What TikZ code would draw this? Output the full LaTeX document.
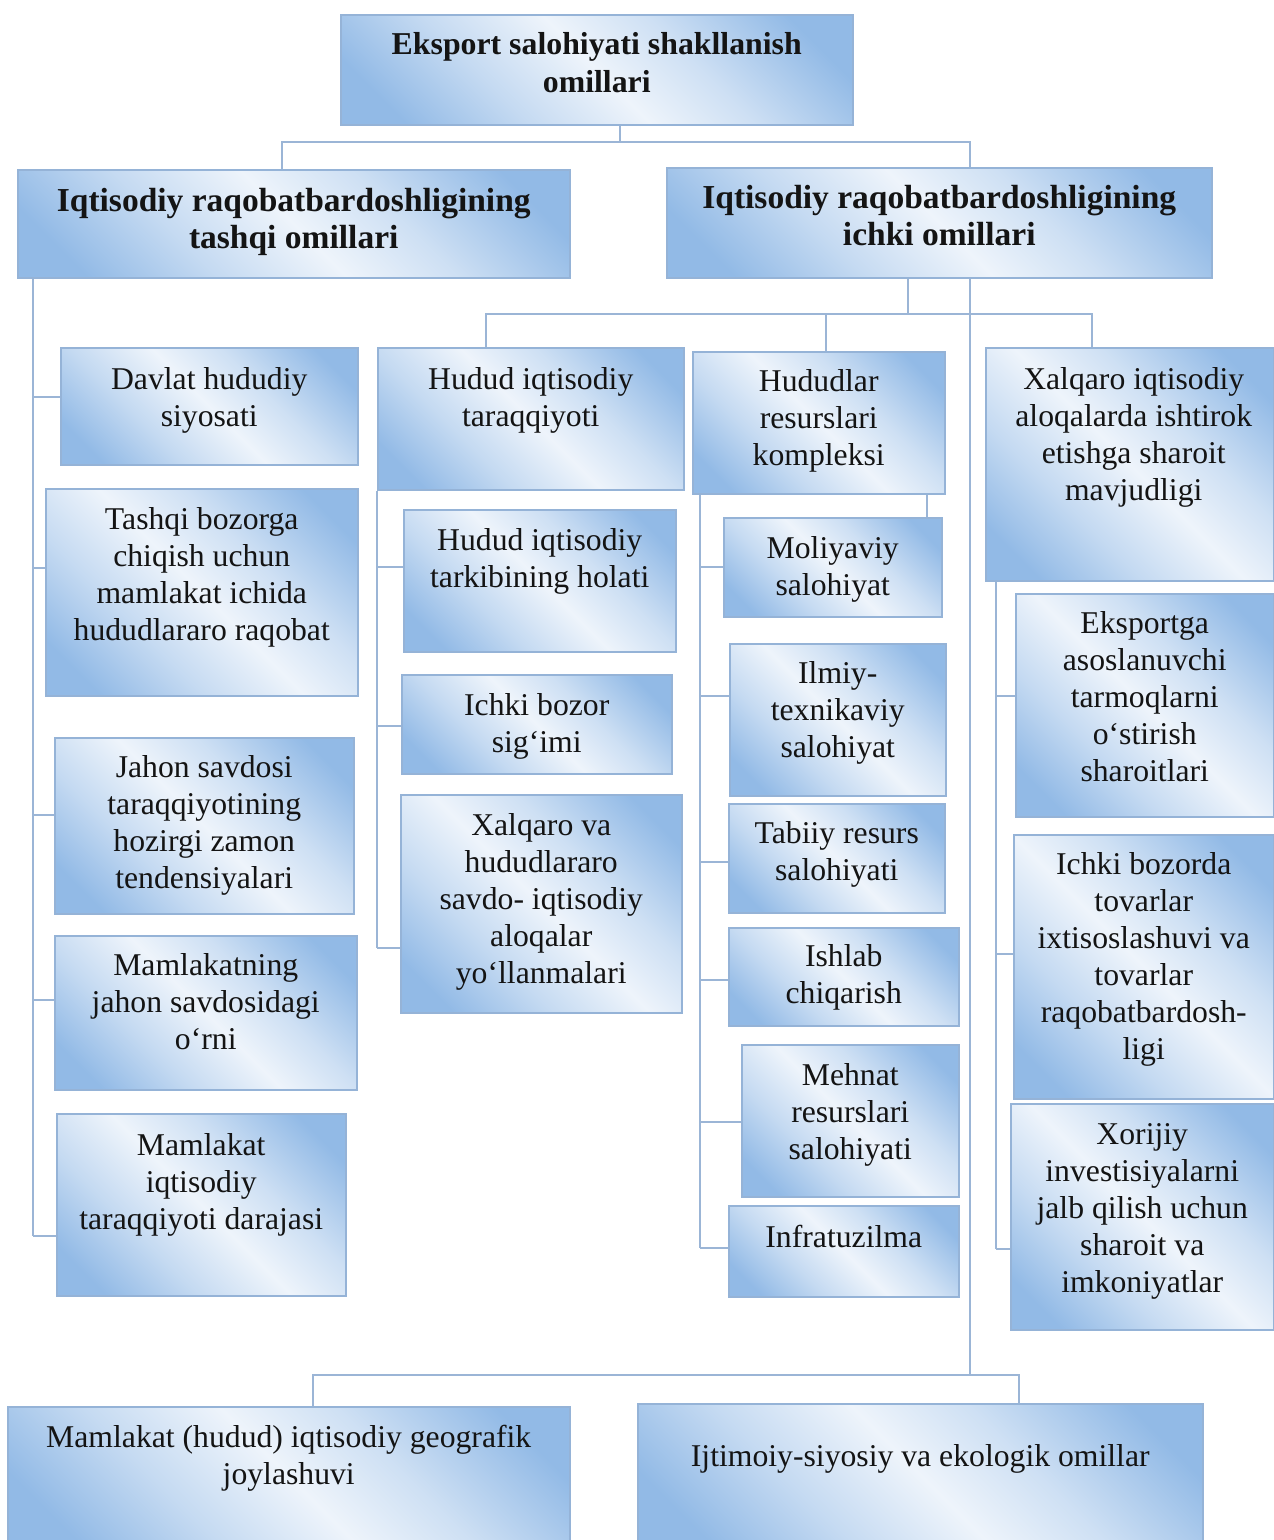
\documentclass[tikz,border=0pt]{standalone}
\usepackage{fontspec}
\setmainfont{Liberation Serif}
\definecolor{bxblue}{RGB}{146,186,230}
\definecolor{bxlight}{RGB}{238,244,251}
\definecolor{bxline}{RGB}{149,179,215}
\definecolor{cnline}{RGB}{155,181,214}
\definecolor{txt}{RGB}{20,20,20}
\pgfdeclareverticalshading{bxshade}{100bp}{color(0bp)=(bxblue); color(22bp)=(bxblue); color(36bp)=(bxblue!45!bxlight); color(50bp)=(bxlight); color(62bp)=(bxblue!35!bxlight); color(78bp)=(bxblue); color(100bp)=(bxblue)}
\tikzset{
  box/.style={draw=bxline,line width=1.5pt,shading=bxshade,shading angle=-45,inner sep=0pt,text=txt,font=\fontsize{31.7}{37}\selectfont},
  conn/.style={draw=cnline,line width=2pt}
}
\newcommand\bx[7]{%
  \pgfmathsetmacro\bxw{#4-#2}\pgfmathsetmacro\bxh{#5-#3}%
  \node[box,anchor=north west,minimum width=\bxw pt,minimum height=\bxh pt] (#1) at (#2,#3)
    {\parbox[c][\bxh pt][t]{\bxw pt}{\centering\rule{0pt}{#6pt}#7}};}
\newcommand\brn[3]{\coordinate (#1) at (#2); \draw[conn] (#1) -- (#1 -| #3.west);}
\begin{document}
\begin{tikzpicture}[x=1pt,y=-1pt]
\useasboundingbox (0,0) rectangle (1274,1540);
\fill[white] (0,0) rectangle (1274,1540);

% top levels
\bx{T}{340}{14}{852}{124}{40}{\fontsize{31.8}{38}\selectfont\bfseries Eksport salohiyati shakllanish\\omillari}
\bx{L}{17}{169}{569}{277}{42}{\fontsize{33.5}{37}\selectfont\bfseries Iqtisodiy raqobatbardoshligining\\tashqi omillari}
\bx{R}{666}{167}{1211}{277}{41}{\fontsize{33.5}{37}\selectfont\bfseries Iqtisodiy raqobatbardoshligining\\ichki omillari}

% left column
\bx{a1}{60}{347}{357}{464}{42}{Davlat hududiy\\siyosati}
\bx{a2}{45}{488}{357}{695}{41}{Tashqi bozorga\\chiqish uchun\\mamlakat ichida\\hududlararo raqobat}
\bx{a3}{54}{737}{353}{913}{40}{Jahon savdosi\\taraqqiyotining\\hozirgi zamon\\tendensiyalari}
\bx{a4}{54}{935}{356}{1089}{40}{Mamlakatning\\jahon savdosidagi\\o‘rni}
\bx{a5}{56}{1113}{345}{1295}{42}{Mamlakat\\iqtisodiy\\taraqqiyoti darajasi}

% column 2
\bx{b0}{377}{347}{683}{489}{42}{Hudud iqtisodiy\\taraqqiyoti}
\bx{b1}{403}{509}{675}{651}{41}{Hudud iqtisodiy\\tarkibining holati}
\bx{b2}{401}{674}{671}{773}{41}{Ichki bozor\\sig‘imi}
\bx{b3}{400}{794}{681}{1012}{41}{Xalqaro va\\hududlararo\\savdo- iqtisodiy\\aloqalar\\yo‘llanmalari}

% column 3
\bx{c0}{692}{351}{944}{493}{40}{Hududlar\\resurslari\\kompleksi}
\bx{c1}{723}{517}{941}{616}{41}{Moliyaviy\\salohiyat}
\bx{c2}{729}{643}{945}{795}{40}{Ilmiy-\\texnikaviy\\salohiyat}
\bx{c3}{728}{803}{944}{912}{40}{Tabiiy resurs\\salohiyati}
\bx{c4}{728}{927}{958}{1025}{39}{Ishlab\\chiqarish}
\bx{c5}{741}{1044}{958}{1196}{41}{Mehnat\\resurslari\\salohiyati}
\bx{c6}{728}{1205}{958}{1296}{42}{Infratuzilma}

% column 4
\bx{d0}{985}{347}{1273}{580}{42}{\hspace*{8pt}Xalqaro iqtisodiy\\\hspace*{8pt}aloqalarda ishtirok\\\hspace*{8pt}etishga sharoit\\\hspace*{8pt}mavjudligi}
\bx{d1}{1015}{593}{1273}{816}{40}{Eksportga\\asoslanuvchi\\tarmoqlarni\\o‘stirish\\sharoitlari}
\bx{d2}{1013}{834}{1273}{1098}{40}{Ichki bozorda\\tovarlar\\ixtisoslashuvi va\\tovarlar\\raqobatbardosh-\\ligi}
\bx{d3}{1010}{1103}{1273}{1329}{41}{Xorijiy\\investisiyalarni\\jalb qilish uchun\\sharoit va\\imkoniyatlar}

% bottom
\bx{e1}{7}{1406}{569}{1545}{41}{Mamlakat (hudud) iqtisodiy geografik\\joylashuvi}
\bx{e2}{637}{1403}{1202}{1545}{63}{Ijtimoiy-siyosiy va ekologik omillar}

% connectors: top
\coordinate (jT) at (620,142);
\coordinate (jTL) at (282,142);
\coordinate (jTR) at (970,142);
\draw[conn] (jT |- T.south) -- (jT);
\draw[conn] (jTL |- L.north) -- (jTL) -- (jTR) -- (jTR |- R.north);

% main trunk to bottom
\coordinate (mt) at (970,1375);
\coordinate (jBL) at (313,1375);
\coordinate (jBR) at (1019,1375);
\draw[conn] (mt |- R.south) -- (mt);
\draw[conn] (jBL |- e1.north) -- (jBL) -- (jBR) -- (jBR |- e2.north);

% second level
\coordinate (s0) at (908,314);
\coordinate (sL) at (486,314);
\coordinate (sR) at (1092,314);
\coordinate (sC) at (826,314);
\draw[conn] (s0 |- R.south) -- (s0);
\draw[conn] (sL |- b0.north) -- (sL) -- (sR) -- (sR |- d0.north);
\draw[conn] (sC) -- (sC |- c0.north);

% left trunk
\coordinate (lt) at (33,1236);
\draw[conn] (lt |- L.south) -- (lt);
\brn{la1}{33,397}{a1}
\brn{la2}{33,568}{a2}
\brn{la3}{33,815}{a3}
\brn{la4}{33,1000}{a4}
\brn{la5}{33,1236}{a5}

% column 2 trunk
\coordinate (bt) at (377,948);
\draw[conn] (bt |- b0.south) -- (bt);
\brn{lb1}{377,567}{b1}
\brn{lb2}{377,726}{b2}
\brn{lb3}{377,948}{b3}

% column 3 trunk
\coordinate (ct) at (700,1248);
\draw[conn] (ct |- c0.south) -- (ct);
\brn{lc1}{700,567}{c1}
\brn{lc2}{700,696}{c2}
\brn{lc3}{700,862}{c3}
\brn{lc4}{700,980}{c4}
\brn{lc5}{700,1122}{c5}
\brn{lc6}{700,1248}{c6}
\coordinate (cx) at (927,500);
\draw[conn] (cx |- c0.south) -- (cx |- c1.north);

% column 4 trunk
\coordinate (dt) at (996,1249);
\draw[conn] (dt |- d0.south) -- (dt);
\brn{ld1}{996,696}{d1}
\brn{ld2}{996,954}{d2}
\brn{ld3}{996,1249}{d3}
\end{tikzpicture}
\end{document}
